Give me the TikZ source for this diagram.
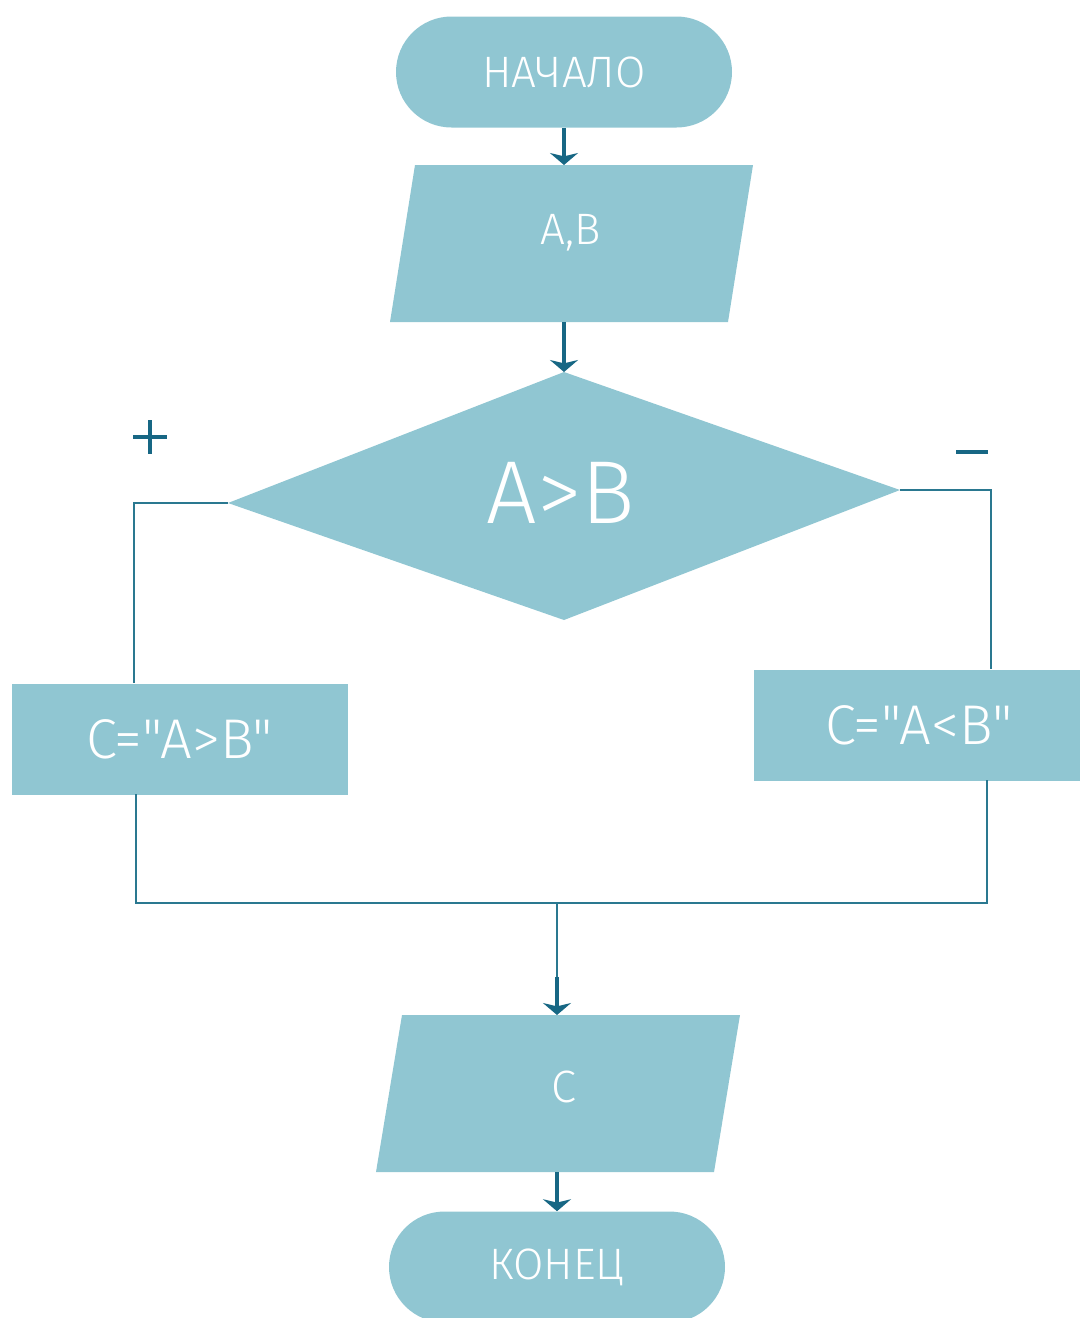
\documentclass[tikz,border=0pt]{standalone}
\usepackage{fontspec}
\newfontfamily\flowfont{Fira Sans Light}
\usetikzlibrary{arrows.meta,shapes.misc}
\definecolor{boxfill}{HTML}{90C6D2}
\definecolor{linecol}{HTML}{2A7890}
\definecolor{arrowcol}{HTML}{176784}
\tikzset{
  lbl/.style={text=white,inner sep=0pt},
  term/.style={rounded rectangle,fill=boxfill,minimum width=336*0.75pt,minimum height=111*0.75pt,inner sep=0pt,text=white},
  procbox/.style={rectangle,fill=boxfill,inner sep=0pt,text=white},
  conn/.style={draw=linecol,line width=1.6pt},
  flow/.style={draw=arrowcol,line width=3.6pt,-{Stealth[width=21pt,length=9pt,inset=2.5pt]}},
  signline/.style={draw=arrowcol,line width=3.4pt}
}
\begin{document}
\begin{tikzpicture}[x=0.75pt,y=-0.75pt]
\useasboundingbox (0,0) rectangle (1080,1318);
% terminals
\node[term,font=\flowfont\fontsize{33}{36}\selectfont] (start) at (564,72) {НАЧАЛО};
\node[term,font=\flowfont\fontsize{33}{36}\selectfont] (stop) at (557,1267) {КОНЕЦ};
% input parallelogram A,B
\fill[boxfill] (415,165) -- (753,165) -- (728,322) -- (390,322) -- cycle;
\node[lbl,font=\flowfont\fontsize{33}{36}\selectfont] (inp) at (571,233) {A,B};
\coordinate (inpT) at (564,165);
\coordinate (inpB) at (564,322);
% decision
\fill[boxfill] (564,372) -- (900,490) -- (564,620) -- (228,503) -- cycle;
\node[lbl,font=\flowfont\fontsize{67}{72}\selectfont] (dec) at (561,493) {A>B};
\coordinate (decT) at (564,372);
\coordinate (decL) at (228,503);
\coordinate (decR) at (900,490);
% process boxes
\node[procbox,minimum width=336*0.75pt,minimum height=111*0.75pt,font=\flowfont\fontsize{42}{46}\selectfont] (pl) at (180,739) {C="A>B"};
\node[procbox,minimum width=330*0.75pt,minimum height=111*0.75pt,font=\flowfont\fontsize{42}{46}\selectfont] (pr) at (919,725) {C="A<B"};
% output parallelogram C
\fill[boxfill] (402,1015) -- (740,1015) -- (714,1172) -- (376,1172) -- cycle;
\node[lbl,font=\flowfont\fontsize{34}{38}\selectfont] (out) at (564,1087) {C};
\coordinate (outT) at (557,1015);
\coordinate (outB) at (557,1172);
% junction
\coordinate (jl) at (136,903);
\coordinate (jr) at (987,903);
\coordinate (jm) at (557,903);
\coordinate (jarr) at (557,977);
% connectors
\draw[flow] (start.south) -- (inpT);
\draw[flow] (inpB) -- (decT);
\draw[conn] (decL) -| (134,683);
\draw[conn] (decR) -| (991,669);
\draw[conn] (136,794) -- (jl) -- (jr) -- (987,780);
\draw[conn] (jm) -- (jarr);
\draw[flow] (jarr) -- (outT);
\draw[flow] (outB) -- (stop.north);
% signs
\coordinate (plusc) at (150,437);
\draw[signline] ([xshift=-17*0.75pt]plusc) -- ([xshift=17*0.75pt]plusc);
\draw[signline] ([yshift=17*0.75pt]plusc) -- ([yshift=-17*0.75pt]plusc);
\coordinate (minusc) at (972,452);
\draw[signline] ([xshift=-16*0.75pt]minusc) -- ([xshift=16*0.75pt]minusc);
\end{tikzpicture}
\end{document}
